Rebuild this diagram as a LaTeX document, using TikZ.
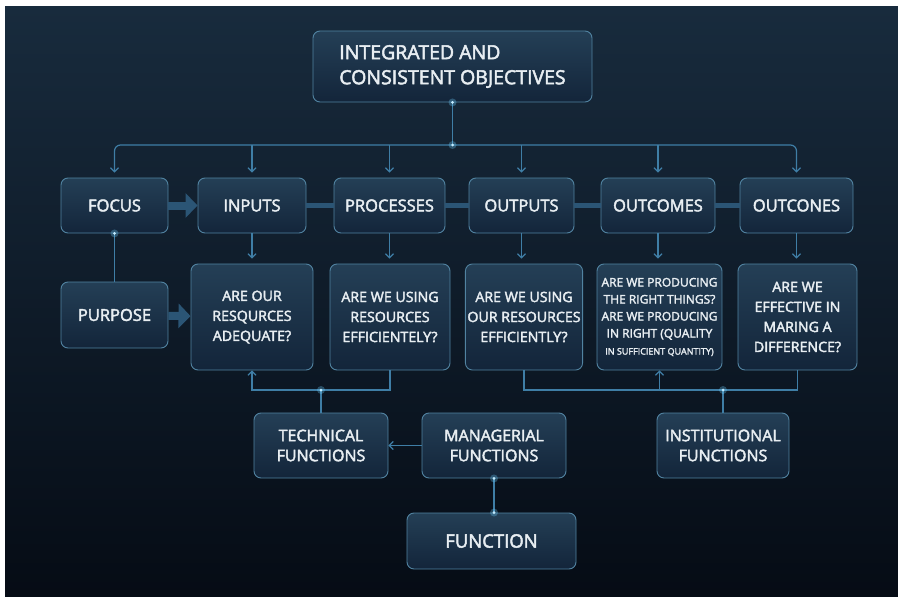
\documentclass[tikz,border=0pt]{standalone}
\usepackage{fontspec}
\setmainfont{Open Sans}[FakeBold=2.5]
\usetikzlibrary{arrows.meta}

\definecolor{bgtop}{HTML}{182B3D}
\definecolor{bgbot}{HTML}{050B14}
\definecolor{boxtop}{HTML}{243F56}
\definecolor{boxbot}{HTML}{13253A}
\definecolor{boxline}{HTML}{5183A1}
\definecolor{linkc}{HTML}{3F7EA6}
\definecolor{fatc}{HTML}{2B5575}
\definecolor{txt}{HTML}{E8EEF2}
\definecolor{glowc}{HTML}{6FD0FF}

\tikzset{
    box/.style={draw=boxline, line width=0.9pt, rounded corners=7pt, top color=boxtop, bottom color=boxbot, text=txt, align=center, inner sep=2pt},
    head/.style={box, minimum height=55pt, font=\fontsize{16.5}{19}\selectfont},
    ask/.style={box, minimum height=106pt, font=\fontsize{14.2}{20}\selectfont},
    func/.style={box, minimum height=65pt, font=\fontsize{16}{20}\selectfont},
    link/.style={draw=linkc, line width=1.2pt},
    fat/.style={draw=fatc, line width=5pt},
}

\begin{document}
\begin{tikzpicture}[x=1pt, y=-1pt, >={Straight Barb[length=4pt,width=8pt]}]
    % Canvas
    \useasboundingbox (0,0) rectangle (898,597);
    \clip (0,0) rectangle (898,597);
    \fill[white] (-5,-5) rectangle (905,605);
    \shade[top color=bgtop, bottom color=bgbot] (5,6) rectangle (910,610);

    % Objectives
    \node[box, minimum width=279pt, minimum height=71pt, align=left, font=\fontsize{19.5}{25}\selectfont] (title) at (452.5,66.5) {INTEGRATED AND\\ CONSISTENT OBJECTIVES};

    % Row 1
    \node[head, minimum width=107pt] (focus) at (114.5,205.5) {FOCUS};
    \node[head, minimum width=108pt] (inputs) at (252,205.5) {INPUTS};
    \node[head, minimum width=111pt] (processes) at (389.5,205.5) {PROCESSES};
    \node[head, minimum width=105pt] (outputs) at (521.5,205.5) {OUTPUTS};
    \node[head, minimum width=114pt] (outcomes) at (658,205.5) {OUTCOMES};
    \node[head, minimum width=113pt] (outcones) at (796.5,205.5) {OUTCONES};

    % Row 2
    \node[head, minimum width=107pt, minimum height=66pt] (purpose) at (114.5,315) {PURPOSE};
    \node[ask, minimum width=122pt] (q1) at (252,317) {ARE OUR\\ RESQURCES\\ ADEQUATE?};
    \node[ask, minimum width=120pt] (q2) at (390,317) {ARE WE USING\\ RESOURCES\\ EFFICIENTELY?};
    \node[ask, minimum width=114pt] (q3) at (524,317) {ARE WE USING\\ OUR RESOURCES\\ EFFICIENTLY?};
    \node[ask, minimum width=125pt, font=\fontsize{12}{17}\selectfont] (q4) at (659.5,317) {ARE WE PRODUCING\\ THE RIGHT THINGS?\\ ARE WE PRODUCING\\ IN RIGHT (QUALITY\\ {\fontsize{9}{12}\selectfont IN SUFFICIENT QUANTITY)}};
    \node[ask, minimum width=119pt] (q5) at (797.5,317) {ARE WE\\ EFFECTIVE IN\\ MARING A\\ DIFFERENCE?};

    % Functions
    \node[func, minimum width=134pt] (technical) at (321,445.5) {TECHNICAL\\ FUNCTIONS};
    \node[func, minimum width=144pt] (managerial) at (494,445.5) {MANAGERIAL\\ FUNCTIONS};
    \node[func, minimum width=132pt] (institutional) at (723,445.5) {INSTITUTIONAL\\ FUNCTIONS};
    \node[box, minimum width=169pt, minimum height=56pt, font=\fontsize{18.5}{20}\selectfont] (function) at (491.5,541) {FUNCTION};

    % Junctions
    \coordinate (bus) at (452.5,145);
    \coordinate (low) at (0,390);
    \coordinate (jt) at (technical.north |- low);
    \coordinate (ji) at (institutional.north |- low);
    \coordinate (mf) at (managerial.south |- function.north);

    % Top bus
    \draw[link] (title) -- (bus);
    \draw[link, ->, rounded corners=6pt, shorten >=5pt] (bus) -| (focus);
    \draw[link, ->, rounded corners=6pt, shorten >=5pt] (bus) -| (outcones);
    \foreach \n in {inputs,processes,outputs,outcomes}
        \draw[link, ->, shorten >=5pt] (\n |- bus) -- (\n);

    % Row links
    \foreach \a/\b in {inputs/processes, processes/outputs, outputs/outcomes, outcomes/outcones}
        \draw[fat] (\a) -- (\b);
    \draw[fat, line width=8pt, -{Triangle[length=12pt,width=24pt]}] (focus) -- (inputs);
    \draw[fat, line width=8pt, -{Triangle[length=12pt,width=24pt]}] (purpose) -- (q1);
    \draw[link] (focus) -- (purpose);
    \foreach \a/\b in {inputs/q1, processes/q2, outputs/q3, outcomes/q4, outcones/q5}
        \draw[link, ->, shorten >=5pt] (\a.south) -- (\a.south |- \b.north);

    % Lower links
    \draw[link, ->] (q2.south) |- (jt) -| (q1.south);
    \draw[link] (technical) -- (jt);
    \draw[link] (q3.south) |- (ji) -| (q5.south);
    \draw[link, ->] (q4.south |- low) -- (q4.south);
    \draw[link] (institutional) -- (ji);
    \draw[link, ->] (managerial) -- (technical);
    \draw[link] (managerial.south) -- (mf);

    % Glow points
    \foreach \p in {title.south, bus, focus.south, jt, ji, managerial.south, mf} {
        \fill[glowc, opacity=0.3] (\p) circle (4pt);
        \fill[glowc!40!white] (\p) circle (1.5pt);
    }
\end{tikzpicture}
\end{document}
